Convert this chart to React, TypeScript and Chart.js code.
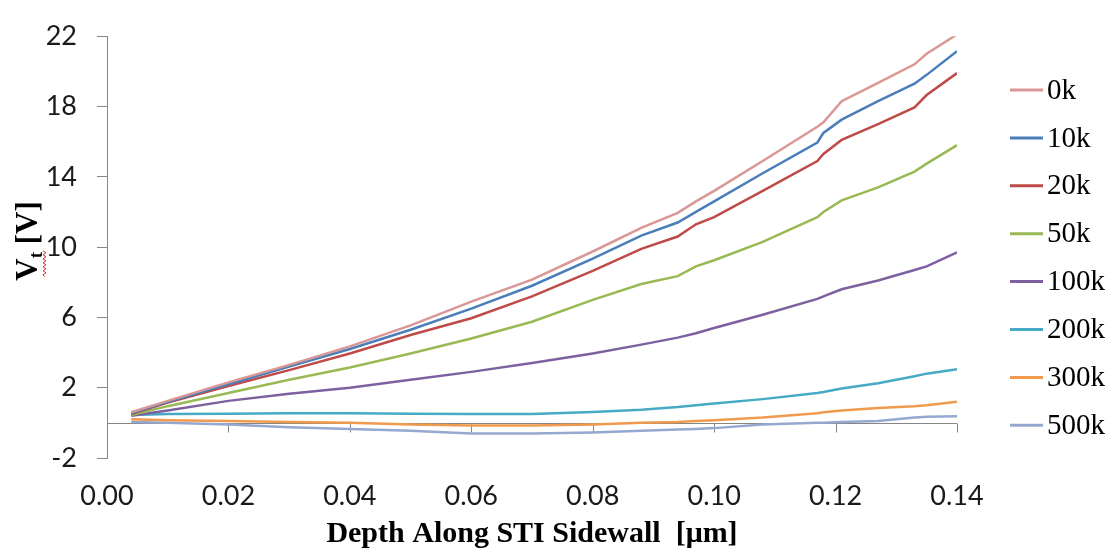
import React, { useEffect, useRef } from 'react';
import { Chart, registerables } from 'chart.js';

Chart.register(...registerables);

// Depth along STI sidewall [µm]
const depth = [0.004, 0.01, 0.02, 0.03, 0.04, 0.05, 0.06, 0.07, 0.08, 0.088, 0.094, 0.097, 0.1, 0.108, 0.117, 0.118, 0.121, 0.127, 0.133, 0.135, 0.14];

const seriesLabels = ['0k', '10k', '20k', '50k', '100k', '200k', '300k', '500k'];

const vt0k = [0.6, 1.25, 2.3, 3.3, 4.35, 5.55, 6.9, 8.15, 9.75, 11.1, 11.95, 12.6, 13.2, 14.9, 16.85, 17.1, 18.3, 19.35, 20.4, 21.0, 22.1];
const vt10k = [0.55, 1.2, 2.2, 3.2, 4.2, 5.3, 6.5, 7.8, 9.35, 10.65, 11.4, 12.0, 12.6, 14.2, 15.95, 16.5, 17.25, 18.3, 19.3, 19.8, 21.15];
const vt20k = [0.5, 1.15, 2.1, 3.0, 3.95, 5.0, 5.95, 7.2, 8.65, 9.9, 10.6, 11.3, 11.7, 13.2, 14.9, 15.3, 16.1, 17.0, 17.95, 18.65, 19.9];
const vt50k = [0.45, 0.95, 1.7, 2.45, 3.15, 3.95, 4.8, 5.75, 7.0, 7.9, 8.35, 8.9, 9.25, 10.3, 11.7, 12.0, 12.66, 13.4, 14.3, 14.75, 15.8];
const vt100k = [0.4, 0.7, 1.25, 1.65, 2.0, 2.45, 2.9, 3.4, 3.95, 4.45, 4.85, 5.1, 5.4, 6.15, 7.05, 7.2, 7.6, 8.1, 8.7, 8.9, 9.7];
const vt200k = [0.45, 0.5, 0.52, 0.55, 0.55, 0.52, 0.5, 0.5, 0.62, 0.75, 0.9, 1.0, 1.1, 1.35, 1.7, 1.75, 1.95, 2.25, 2.65, 2.8, 3.05];
const vt300k = [0.2, 0.15, 0.1, 0.05, 0.0, -0.1, -0.15, -0.15, -0.1, 0.0, 0.05, 0.1, 0.15, 0.3, 0.55, 0.6, 0.7, 0.85, 0.95, 1.0, 1.2];
const vt500k = [0.05, 0.0, -0.1, -0.25, -0.35, -0.45, -0.6, -0.6, -0.55, -0.45, -0.38, -0.35, -0.3, -0.1, 0.0, 0.0, 0.05, 0.1, 0.3, 0.35, 0.38];

const seriesValues = [vt0k, vt10k, vt20k, vt50k, vt100k, vt200k, vt300k, vt500k];
const seriesColors = ['#D99795', '#4A7EBB', '#BE4B48', '#98B954', '#7D60A0', '#46AAC5', '#F09A4E', '#95A8CF'];

const xTickValues = [0, 0.02, 0.04, 0.06, 0.08, 0.1, 0.12, 0.14];
const yTickValues = [-2, 2, 6, 10, 14, 18, 22];

const AXIS_GRAY = '#868686';
const TEXT = '#1a1a1a';

const decorPlugin = {
  id: 'decor',
  beforeDatasetsDraw(chart: any) {
    const { ctx, chartArea, scales } = chart;
    const y0 = Math.round(scales.y.getPixelForValue(0)) + 0.5;
    ctx.save();
    ctx.strokeStyle = AXIS_GRAY;
    ctx.lineWidth = 1;
    ctx.beginPath();
    ctx.moveTo(chartArea.left, y0);
    ctx.lineTo(chartArea.right, y0);
    xTickValues.forEach((v) => {
      if (v === 0) return;
      const px = Math.round(scales.x.getPixelForValue(v)) + 0.5;
      ctx.moveTo(px, y0);
      ctx.lineTo(px, y0 + 9);
    });
    ctx.stroke();
    ctx.restore();
  },
  afterDraw(chart: any) {
    const { ctx, chartArea } = chart;
    // Y axis title: V_t [V]
    ctx.save();
    const big = 'bold 31px "Liberation Serif"';
    const small = 'bold 19px "Liberation Serif"';
    ctx.font = big;
    const wV = ctx.measureText('V').width;
    const wRest = ctx.measureText(' [V]').width;
    ctx.font = small;
    const wT = ctx.measureText('t').width;
    const total = wV + wT + wRest;
    const cx = 29;
    const cy = 241;
    ctx.translate(cx, cy);
    ctx.rotate(-Math.PI / 2);
    ctx.fillStyle = '#000';
    ctx.textBaseline = 'middle';
    let x = -total / 2;
    ctx.font = big;
    ctx.fillText('V', x, 0);
    x += wV;
    ctx.font = small;
    ctx.fillText('t', x, 8);
    const tStart = x;
    x += wT;
    ctx.font = big;
    ctx.fillText(' [V]', x, 0);
    // spell-check squiggle under the subscript
    ctx.strokeStyle = '#D9262A';
    ctx.lineWidth = 1;
    ctx.beginPath();
    const sqStart = -total / 2 + 4;
    const sqEnd = tStart + wT + 2;
    let up = true;
    ctx.moveTo(sqStart, 16);
    for (let sx = sqStart + 2; sx <= sqEnd; sx += 2) {
      ctx.lineTo(sx, up ? 14 : 17);
      up = !up;
    }
    ctx.stroke();
    ctx.restore();

    // Legend
    ctx.save();
    const lx = chartArea.right + 53;
    const y0 = 90;
    const gap = 47.9;
    ctx.font = '29px "Liberation Serif"';
    ctx.textBaseline = 'middle';
    ctx.fillStyle = '#000';
    chart.data.datasets.forEach((ds: any, i: number) => {
      const yy = y0 + i * gap;
      ctx.strokeStyle = ds.borderColor;
      ctx.lineWidth = 3;
      ctx.beginPath();
      ctx.moveTo(lx, yy);
      ctx.lineTo(lx + 33, yy);
      ctx.stroke();
      ctx.fillText(ds.label, lx + 37, yy + 1);
    });
    ctx.restore();
  },
};

export default function App() {
  const canvasRef = useRef<HTMLCanvasElement | null>(null);

  useEffect(() => {
    if (!canvasRef.current) return;
    const chart = new Chart(canvasRef.current, {
      type: 'line',
      data: {
        datasets: seriesLabels.map((label, i) => ({
          label,
          data: depth.map((d, j) => ({ x: d, y: seriesValues[i][j] })),
          borderColor: seriesColors[i],
          backgroundColor: seriesColors[i],
          borderWidth: 2.5,
          pointRadius: 0,
          tension: 0,
          fill: false,
        })),
      },
      options: {
        animation: false,
        responsive: false,
        devicePixelRatio: 1,
        layout: { padding: { top: 20, right: 160, left: 0, bottom: 0 } },
        plugins: {
          legend: { display: false },
          tooltip: { enabled: false },
        },
        scales: {
          x: {
            type: 'linear',
            position: 'bottom',
            min: 0,
            max: 0.14,
            afterBuildTicks: (s: any) => {
              s.ticks = xTickValues.map((v) => ({ value: v }));
            },
            afterFit: (s: any) => {
              s.height = 96;
            },
            ticks: {
              callback: (v: any) => Number(v).toFixed(2),
              font: { family: 'Lato', size: 27 },
              color: TEXT,
              padding: 22,
              maxRotation: 0,
              autoSkip: false,
            },
            grid: { display: false, drawTicks: false },
            border: { display: false },
            title: {
              display: true,
              text: 'Depth Along STI Sidewall  [μm]',
              font: { family: 'Liberation Serif', size: 30, weight: 'bold' },
              color: '#000',
              padding: { top: 0, bottom: 2 },
            },
          },
          y: {
            type: 'linear',
            min: -2,
            max: 22,
            afterBuildTicks: (s: any) => {
              s.ticks = yTickValues.map((v) => ({ value: v }));
            },
            afterFit: (s: any) => {
              s.width = 107;
            },
            ticks: {
              font: { family: 'Lato', size: 27 },
              color: TEXT,
              padding: 20,
            },
            grid: {
              display: true,
              drawOnChartArea: false,
              drawTicks: true,
              tickLength: 10,
              color: AXIS_GRAY,
            },
            border: { display: true, color: AXIS_GRAY, width: 1 },
          },
        },
      },
      plugins: [decorPlugin],
    });
    return () => chart.destroy();
  }, []);

  return (
    <div style={{ position: 'absolute', left: 0, top: 0, width: 1117, height: 554, background: '#fff' }}>
      <canvas ref={canvasRef} width={1117} height={554} style={{ display: 'block' }} />
    </div>
  );
}
